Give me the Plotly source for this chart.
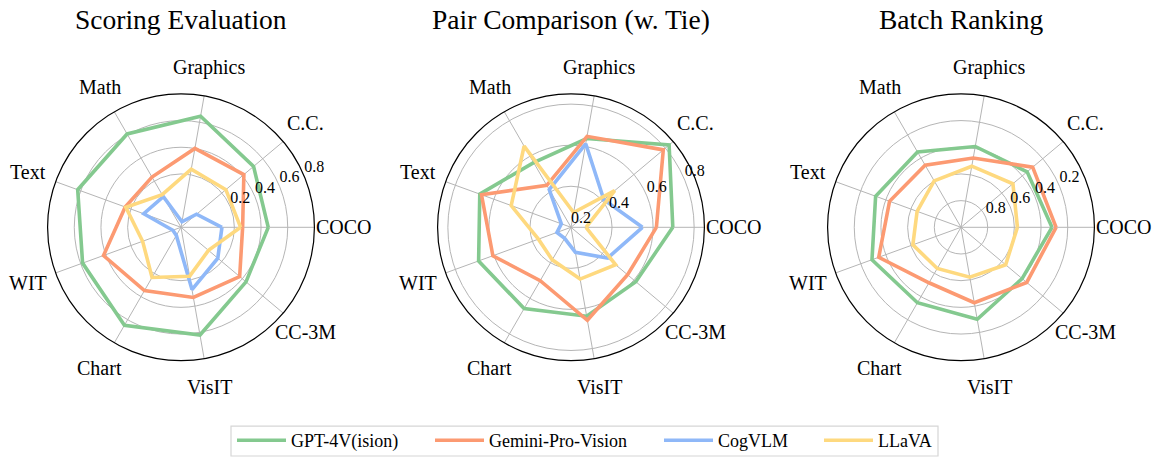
import math
import plotly.graph_objects as go

categories = ["COCO", "C.C.", "Graphics", "Math", "Text", "WIT", "Chart", "VisIT", "CC-3M"]
angles = [0, 40, 80, 120, 160, 200, 240, 280, 320]
models = ["GPT-4V(ision)", "Gemini-Pro-Vision", "CogVLM", "LLaVA"]
titles = ["Scoring Evaluation", "Pair Comparison (w. Tie)", "Batch Ranking"]

score_gpt4v = [0.454, 0.510, 0.645, 0.608, 0.624, 0.585, 0.648, 0.620, 0.436]
score_gemini = [0.262, 0.415, 0.400, 0.235, 0.245, 0.418, 0.348, 0.334, 0.374]
score_cogvlm = [0.107, -0.048, -0.158, 0.065, 0.097, -0.135, -0.130, 0.274, 0.160]
score_llava = [0.247, 0.239, 0.243, 0.082, 0.240, 0.106, 0.234, 0.172, 0.069]

pair_gpt4v = [0.696, 0.824, 0.639, 0.564, 0.673, 0.679, 0.657, 0.640, 0.612]
pair_gemini = [0.616, 0.787, 0.650, 0.436, 0.664, 0.605, 0.500, 0.660, 0.560]
pair_cogvlm = [0.548, 0.409, 0.613, 0.412, 0.250, 0.273, 0.262, 0.324, 0.433]
pair_llava = [0.273, 0.478, 0.273, 0.657, 0.510, 0.369, 0.383, 0.456, 0.484]

batch_gpt4v = [0.318, 0.353, 0.385, 0.348, 0.319, 0.290, 0.347, 0.300, 0.402]
batch_gemini = [0.287, 0.299, 0.473, 0.462, 0.430, 0.344, 0.520, 0.426, 0.357]
batch_llava = [0.577, 0.492, 0.535, 0.598, 0.650, 0.616, 0.644, 0.620, 0.563]

score_ticks = [0.2, 0.4, 0.6, 0.8]
pair_ticks = [0.2, 0.4, 0.6, 0.8]
batch_ticks = [0.8, 0.6, 0.4, 0.2]

colors = ["#84c98f", "#fc9a72", "#8fb8f8", "#fed97f"]
FONT = "Liberation Serif"
W, H = 1163, 459

panels = [
    dict(series=[score_gpt4v, score_gemini, score_cogvlm, score_llava], ticks=score_ticks,
         range=[-0.2, 0.8], cx=181),
    dict(series=[pair_gpt4v, pair_gemini, pair_cogvlm, pair_llava], ticks=pair_ticks,
         range=[0.2, 0.85], cx=571),
    dict(series=[batch_gpt4v, batch_gemini, None, batch_llava], ticks=batch_ticks,
         range=[1.0, 0.0], cx=961),
]

fig = go.Figure()
R = 134          # polar radius in px
CY = 228.3       # polar centre (px from top)
LABEL_R = 163    # px from centre to category label centres
legend_names = ["legend", "legend2", "legend3", "legend4"]

for p_i, p in enumerate(panels):
    pname = "polar" if p_i == 0 else f"polar{p_i + 1}"
    for m_i, vals in enumerate(p["series"]):
        if vals is None:
            continue
        fig.add_trace(go.Scatterpolar(
            r=vals + vals[:1], theta=angles + angles[:1], mode="lines",
            line=dict(color=colors[m_i], width=3.6), name=models[m_i],
            subplot=pname, showlegend=(p_i == 0), legend=legend_names[m_i],
            hoverinfo="skip"))
    # radial tick labels (at 22.5 deg, left/bottom aligned)
    fig.add_trace(go.Scatterpolar(
        r=p["ticks"], theta=[22.5] * len(p["ticks"]), mode="text",
        text=[f"{t:.1f}" for t in p["ticks"]], textposition="top right",
        textfont=dict(family=FONT, size=16, color="black"),
        subplot=pname, showlegend=False, hoverinfo="skip", cliponaxis=False))
    x0 = (p["cx"] - R) / W
    x1 = (p["cx"] + R) / W
    y0 = 1 - (CY + R) / H
    y1 = 1 - (CY - R) / H
    fig.update_layout(**{pname: dict(
        domain=dict(x=[x0, x1], y=[y0, y1]),
        bgcolor="white",
        radialaxis=dict(range=p["range"], tickmode="array", tickvals=p["ticks"],
                        showticklabels=False, ticks="", showline=False,
                        gridcolor="#b5b5b5", gridwidth=0.8, angle=22.5),
        angularaxis=dict(tickmode="array", tickvals=angles, ticktext=categories,
                         showticklabels=False,
                         direction="counterclockwise", rotation=0, ticks="",
                         showline=True, linecolor="black", linewidth=1.2,
                         gridcolor="#b5b5b5", gridwidth=0.8),
    )})
    # category labels centred on a circle just outside the polar frame
    for cat, ang in zip(categories, angles):
        a = math.radians(ang)
        fig.add_annotation(
            text=cat, xref="paper", yref="paper",
            x=(p["cx"] + LABEL_R * math.cos(a)) / W,
            y=1 - (CY - LABEL_R * math.sin(a)) / H,
            xanchor="center", yanchor="middle", showarrow=False,
            font=dict(family=FONT, size=20, color="black"))
    fig.add_annotation(text=titles[p_i], x=p["cx"] / W, y=1 - 20 / H, xref="paper", yref="paper",
                       xanchor="center", yanchor="middle", showarrow=False,
                       font=dict(family=FONT, size=27.5, color="black"))

legend_line_centre = [256, 454, 683, 843]
for i, ln in enumerate(legend_names):
    fig.update_layout(**{ln: dict(
        x=(legend_line_centre[i] - 24) / W, xanchor="left", y=1 - 442.5 / H, yanchor="middle",
        orientation="h", bgcolor="rgba(0,0,0,0)", borderwidth=0, itemwidth=49,
        font=dict(family=FONT, size=18, color="black"))})

fig.add_shape(type="rect", xref="paper", yref="paper",
              x0=231 / W, x1=938 / W, y0=1 - 458 / H, y1=1 - 428 / H,
              line=dict(color="#d6d6d6", width=1.2), fillcolor="rgba(0,0,0,0)")

fig.update_layout(width=W, height=H, margin=dict(l=0, r=0, t=0, b=0),
                  paper_bgcolor="white", plot_bgcolor="white",
                  font=dict(family=FONT, color="black"))

fig.write_html("out.html", config={"displayModeBar": False},
               post_script="document.body.style.margin='0px';")
